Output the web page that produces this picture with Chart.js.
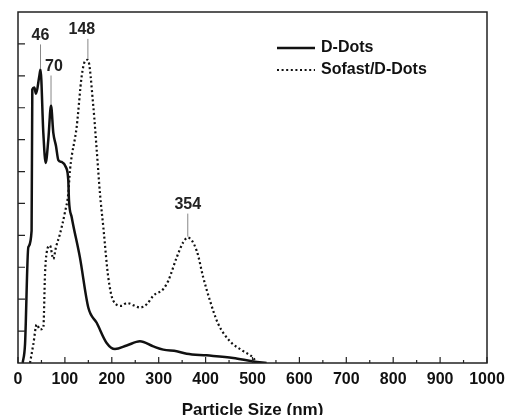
<!DOCTYPE html>
<html>
<head>
<meta charset="utf-8">
<script src="https://cdn.jsdelivr.net/npm/chart.js@4.4.0/dist/chart.umd.min.js"></script>
<style>
  html, body { margin: 0; padding: 0; background: #fff; }
  canvas { display: block; }
</style>
</head>
<body>
<canvas id="chart" width="505" height="415"></canvas>
<script>
// particle size (nm) / intensity (arbitrary units)
const dDotsSize  = [10, 15, 22, 29, 30.5, 34.8, 38.4, 45.4, 48, 54, 59, 64.6, 70.4, 75.3, 81, 86, 93.2, 101.7, 107.2, 108.7, 114.5, 132, 150, 167.8, 189, 206.8, 231.8, 260, 288.5, 309.8, 338.4, 359.7, 402.3, 459, 501.7, 530];
const dDotsValue = [0, 0.59, 3.63, 4.15, 8.57, 8.63, 8.44, 8.99, 9.2, 7.21, 6.27, 6.99, 8.07, 7.21, 6.8, 6.36, 6.3, 6.15, 5.73, 5.1, 4.57, 3.31, 1.73, 1.26, 0.63, 0.44, 0.55, 0.68, 0.52, 0.42, 0.37, 0.29, 0.24, 0.16, 0.05, 0];

const sofastSize  = [25.6, 32.6, 39.9, 46.9, 54, 57.6, 61.2, 68.2, 75.3, 81, 89.6, 100.2, 107.2, 110.9, 125.2, 135.8, 142.9, 149, 160.6, 167.8, 174.8, 181.9, 192.5, 203.2, 221.1, 231.8, 260.1, 274.4, 288.5, 309.8, 320.5, 338.4, 352.5, 362, 381, 395, 409.4, 427, 452, 480.4, 501.7, 509];
const sofastValue = [0, 0.58, 1.21, 1.05, 1.1, 2.79, 3.47, 3.68, 3.26, 3.63, 4.05, 4.73, 5.31, 6.05, 7.41, 8.99, 9.46, 9.5, 8.04, 6.68, 5.31, 4.26, 2.68, 1.95, 1.79, 1.88, 1.74, 1.84, 2.11, 2.32, 2.58, 3.31, 3.79, 3.93, 3.52, 2.68, 1.95, 1.22, 0.68, 0.37, 0.16, 0];

const seriesNames = ['D-Dots', 'Sofast/D-Dots'];

// peak annotations
const peakLabels = ['46', '70', '148', '354'];
const peakSize   = [48, 70.4, 149, 362];
const peakValue  = [9.2, 8.07, 9.5, 3.93];
// leader length and text shift (px) per peak
const peakLift   = [25, 30, 21, 24];
const peakShift  = [0, 3, -6, 0];

const xTicks = [0, 100, 200, 300, 400, 500, 600, 700, 800, 900, 1000];
const yMax = 11;

const FONT = "'Liberation Sans', Arial, sans-serif";

function toPoints(xs, ys) {
  return xs.map((x, i) => ({ x: x, y: ys[i] }));
}

// box + inward ticks
const frameTicks = {
  id: 'frameTicks',
  afterDraw(chart) {
    const { ctx, chartArea: a, scales } = chart;
    ctx.save();
    ctx.strokeStyle = '#222';
    ctx.lineWidth = 1.5;
    ctx.strokeRect(a.left, a.top, a.right - a.left, a.bottom - a.top);
    ctx.lineWidth = 1.2;
    ctx.beginPath();
    for (let v = 0; v <= 1000; v += 50) {
      const px = scales.x.getPixelForValue(v);
      const len = v % 100 === 0 ? 6 : 3;
      ctx.moveTo(px, a.bottom);
      ctx.lineTo(px, a.bottom - len);
    }
    for (let v = 1; v < yMax; v++) {
      const py = scales.y.getPixelForValue(v);
      ctx.moveTo(a.left, py);
      ctx.lineTo(a.left + 7, py);
    }
    ctx.stroke();
    ctx.restore();
  }
};

// peak labels with leader lines
const peakMarks = {
  id: 'peakMarks',
  afterDatasetsDraw(chart) {
    const { ctx, scales } = chart;
    ctx.save();
    ctx.font = 'bold 16px ' + FONT;
    ctx.textAlign = 'center';
    ctx.textBaseline = 'bottom';
    peakLabels.forEach((lbl, i) => {
      const px = scales.x.getPixelForValue(peakSize[i]);
      const py = scales.y.getPixelForValue(peakValue[i]);
      ctx.strokeStyle = '#888';
      ctx.lineWidth = 1;
      ctx.beginPath();
      ctx.moveTo(px, py - 1);
      ctx.lineTo(px, py - peakLift[i]);
      ctx.stroke();
      ctx.fillStyle = '#222';
      ctx.fillText(lbl, px + peakShift[i], py - peakLift[i] - 1);
    });
    ctx.restore();
  }
};

// legend drawn inside the plot
const insideLegend = {
  id: 'insideLegend',
  afterDraw(chart) {
    const { ctx } = chart;
    ctx.save();
    ctx.font = 'bold 16px ' + FONT;
    ctx.textBaseline = 'middle';
    ctx.textAlign = 'left';
    chart.data.datasets.forEach((ds, i) => {
      const y = 48 + i * 22;
      ctx.strokeStyle = '#111';
      ctx.lineWidth = ds.borderWidth;
      ctx.setLineDash(ds.borderDash || []);
      ctx.beginPath();
      ctx.moveTo(277, y);
      ctx.lineTo(315, y);
      ctx.stroke();
      ctx.setLineDash([]);
      ctx.fillStyle = '#111';
      ctx.fillText(ds.label, 321, y);
    });
    ctx.restore();
  }
};

new Chart(document.getElementById('chart'), {
  type: 'line',
  data: {
    datasets: [
      {
        label: seriesNames[0],
        data: toPoints(dDotsSize, dDotsValue),
        borderColor: '#111',
        borderWidth: 2.5,
        pointRadius: 0,
        fill: false,
        cubicInterpolationMode: 'monotone'
      },
      {
        label: seriesNames[1],
        data: toPoints(sofastSize, sofastValue),
        borderColor: '#111',
        borderWidth: 2.2,
        borderDash: [2, 2.6],
        pointRadius: 0,
        fill: false,
        cubicInterpolationMode: 'monotone'
      }
    ]
  },
  options: {
    responsive: false,
    animation: false,
    layout: { padding: { left: 18, right: 18, top: 12, bottom: -4 } },
    plugins: {
      legend: { display: false },
      tooltip: { enabled: false }
    },
    scales: {
      x: {
        type: 'linear',
        min: 0,
        max: 1000,
        afterBuildTicks: (s) => { s.ticks = xTicks.map(v => ({ value: v })); },
        // the outer labels may hang into the page margin
        afterFit: (s) => { s.paddingLeft = 0; s.paddingRight = 0; },
        grid: { display: false, drawTicks: false },
        border: { display: false },
        ticks: {
          padding: 9,
          color: '#111',
          maxRotation: 0,
          autoSkip: false,
          callback: (v) => String(v),
          font: { family: FONT, size: 16, weight: 'bold', lineHeight: 1 }
        },
        title: {
          display: true,
          text: 'Particle Size (nm)',
          color: '#111',
          padding: { top: 5, bottom: 0 },
          font: { family: FONT, size: 17, weight: 'bold', lineHeight: 1 }
        }
      },
      y: {
        display: false,
        min: 0,
        max: yMax
      }
    }
  },
  plugins: [frameTicks, peakMarks, insideLegend]
});
</script>
</body>
</html>
